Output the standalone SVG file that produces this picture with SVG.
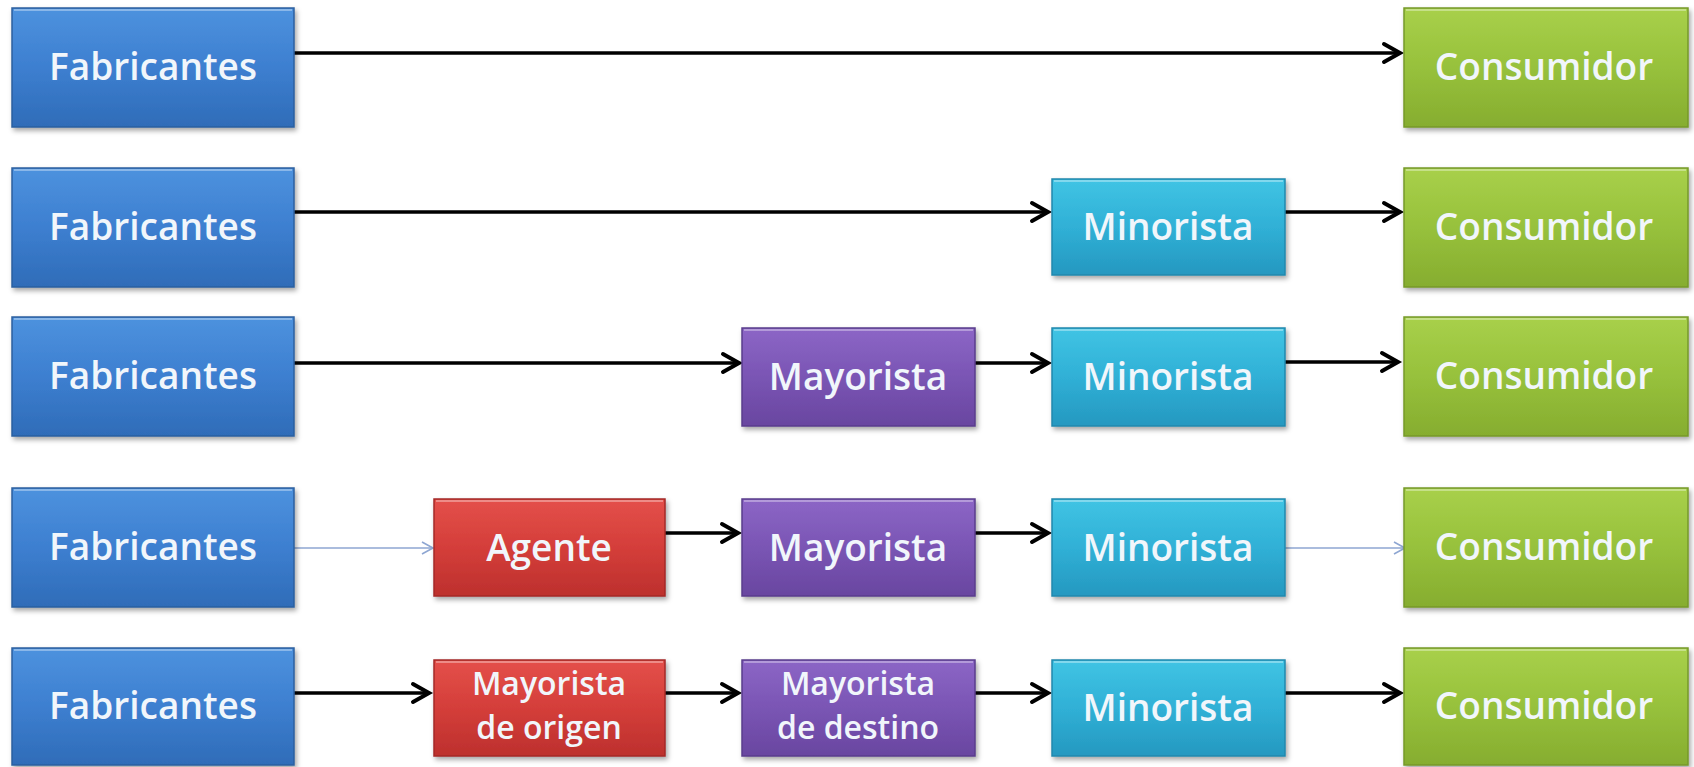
<svg xmlns="http://www.w3.org/2000/svg" width="1694" height="767" viewBox="0 0 1694 767">
<defs>
<linearGradient id="gBlue" x1="0" y1="0" x2="0" y2="1"><stop offset="0" stop-color="#4d92de"/><stop offset="0.5" stop-color="#3d7fd0"/><stop offset="1" stop-color="#2f6cb8"/></linearGradient>
<linearGradient id="gGreen" x1="0" y1="0" x2="0" y2="1"><stop offset="0" stop-color="#a8d04a"/><stop offset="0.5" stop-color="#97c13c"/><stop offset="1" stop-color="#86ad2f"/></linearGradient>
<linearGradient id="gCyan" x1="0" y1="0" x2="0" y2="1"><stop offset="0" stop-color="#40c4e4"/><stop offset="0.5" stop-color="#30b0d6"/><stop offset="1" stop-color="#2598c0"/></linearGradient>
<linearGradient id="gPurple" x1="0" y1="0" x2="0" y2="1"><stop offset="0" stop-color="#8c66c6"/><stop offset="0.5" stop-color="#7a55b4"/><stop offset="1" stop-color="#6946a0"/></linearGradient>
<linearGradient id="gRed" x1="0" y1="0" x2="0" y2="1"><stop offset="0" stop-color="#e4504a"/><stop offset="0.5" stop-color="#d43e3a"/><stop offset="1" stop-color="#bd302d"/></linearGradient>
<filter id="sh" x="-10%" y="-10%" width="125%" height="130%"><feDropShadow dx="2" dy="3" stdDeviation="2.5" flood-color="#000" flood-opacity="0.35"/></filter>
<marker id="ah" markerUnits="userSpaceOnUse" markerWidth="24" markerHeight="24" refX="19" refY="12" orient="auto"><path d="M3,3 L19,12 L3,21" fill="none" stroke="#000" stroke-width="4" stroke-linejoin="miter" stroke-linecap="round"/></marker>
<marker id="ahThin" markerUnits="userSpaceOnUse" markerWidth="16" markerHeight="16" refX="13" refY="8" orient="auto"><path d="M2,2 L13,8 L2,14" fill="none" stroke="#8ea6d2" stroke-width="1.6"/></marker>
</defs>
<style>
.box{filter:url(#sh);}
.blue{fill:url(#gBlue);stroke:#2b5f9f;stroke-width:1.5;}
.green{fill:url(#gGreen);stroke:#76992a;stroke-width:1.5;}
.cyan{fill:url(#gCyan);stroke:#1f88ad;stroke-width:1.5;}
.purple{fill:url(#gPurple);stroke:#5a3c8c;stroke-width:1.5;}
.red{fill:url(#gRed);stroke:#a42a27;stroke-width:1.5;}
.hl{fill:none;stroke:#ffffff;stroke-opacity:0.35;stroke-width:2;}
text{font-family:"Open Sans","Liberation Sans",Arial,sans-serif;font-weight:600;font-size:37px;text-anchor:middle;fill:#f1f6fb;}
text.two{font-size:32px;}
.c{stroke:#000;stroke-width:3.5;fill:none;marker-end:url(#ah);}
.t{stroke:#8ea6d2;stroke-width:1.6;fill:none;marker-end:url(#ahThin);}
</style>
<rect width="1694" height="767" fill="#ffffff"/>

<g id="connectors">
<line class="c" x1="294" y1="53" x2="1400" y2="53"/>
<line class="c" x1="294" y1="212" x2="1048" y2="212"/>
<line class="c" x1="1285" y1="212" x2="1400" y2="212"/>
<line class="c" x1="294" y1="363" x2="739" y2="363"/>
<line class="c" x1="975" y1="363" x2="1048" y2="363"/>
<line class="c" x1="1285" y1="362" x2="1398" y2="362"/>
<line class="t" x1="294" y1="548" x2="433" y2="548"/>
<line class="c" x1="665" y1="533" x2="738" y2="533"/>
<line class="c" x1="975" y1="533" x2="1048" y2="533"/>
<line class="t" x1="1285" y1="548" x2="1405" y2="548"/>
<line class="c" x1="294" y1="693" x2="429" y2="693"/>
<line class="c" x1="665" y1="693" x2="738" y2="693"/>
<line class="c" x1="975" y1="693" x2="1048" y2="693"/>
<line class="c" x1="1285" y1="693" x2="1400" y2="693"/>
</g>

<!-- Row 1 -->
<g id="fab1"><rect class="box blue" x="12" y="8" width="282" height="119"/><line class="hl" x1="14" y1="10" x2="292" y2="10"/><text x="153" y="80">Fabricantes</text></g>
<g id="cons1"><rect class="box green" x="1404" y="8" width="284" height="119"/><line class="hl" x1="1406" y1="10" x2="1686" y2="10"/><text x="1544" y="80">Consumidor</text></g>

<!-- Row 2 -->
<g id="fab2"><rect class="box blue" x="12" y="168" width="282" height="119"/><line class="hl" x1="14" y1="170" x2="292" y2="170"/><text x="153" y="240">Fabricantes</text></g>
<g id="min2"><rect class="box cyan" x="1052" y="179" width="233" height="96"/><line class="hl" x1="1054" y1="181" x2="1283" y2="181"/><text x="1168" y="240">Minorista</text></g>
<g id="cons2"><rect class="box green" x="1404" y="168" width="284" height="119"/><line class="hl" x1="1406" y1="170" x2="1686" y2="170"/><text x="1544" y="240">Consumidor</text></g>

<!-- Row 3 -->
<g id="fab3"><rect class="box blue" x="12" y="317" width="282" height="119"/><line class="hl" x1="14" y1="319" x2="292" y2="319"/><text x="153" y="389">Fabricantes</text></g>
<g id="may3"><rect class="box purple" x="742" y="328" width="233" height="98"/><line class="hl" x1="744" y1="330" x2="973" y2="330"/><text x="858" y="390">Mayorista</text></g>
<g id="min3"><rect class="box cyan" x="1052" y="328" width="233" height="98"/><line class="hl" x1="1054" y1="330" x2="1283" y2="330"/><text x="1168" y="390">Minorista</text></g>
<g id="cons3"><rect class="box green" x="1404" y="317" width="284" height="119"/><line class="hl" x1="1406" y1="319" x2="1686" y2="319"/><text x="1544" y="389">Consumidor</text></g>

<!-- Row 4 -->
<g id="fab4"><rect class="box blue" x="12" y="488" width="282" height="119"/><line class="hl" x1="14" y1="490" x2="292" y2="490"/><text x="153" y="560">Fabricantes</text></g>
<g id="age4"><rect class="box red" x="434" y="499" width="231" height="97"/><line class="hl" x1="436" y1="501" x2="663" y2="501"/><text x="549" y="561">Agente</text></g>
<g id="may4"><rect class="box purple" x="742" y="499" width="233" height="97"/><line class="hl" x1="744" y1="501" x2="973" y2="501"/><text x="858" y="561">Mayorista</text></g>
<g id="min4"><rect class="box cyan" x="1052" y="499" width="233" height="97"/><line class="hl" x1="1054" y1="501" x2="1283" y2="501"/><text x="1168" y="561">Minorista</text></g>
<g id="cons4"><rect class="box green" x="1404" y="488" width="284" height="119"/><line class="hl" x1="1406" y1="490" x2="1686" y2="490"/><text x="1544" y="560">Consumidor</text></g>

<!-- Row 5 -->
<g id="fab5"><rect class="box blue" x="12" y="648" width="282" height="117"/><line class="hl" x1="14" y1="650" x2="292" y2="650"/><text x="153" y="719">Fabricantes</text></g>
<g id="mdo5"><rect class="box red" x="434" y="660" width="231" height="96"/><line class="hl" x1="436" y1="662" x2="663" y2="662"/><text class="two" x="549" y="695">Mayorista</text><text class="two" x="549" y="739">de origen</text></g>
<g id="mdd5"><rect class="box purple" x="742" y="660" width="233" height="96"/><line class="hl" x1="744" y1="662" x2="973" y2="662"/><text class="two" x="858" y="695">Mayorista</text><text class="two" x="858" y="739">de destino</text></g>
<g id="min5"><rect class="box cyan" x="1052" y="660" width="233" height="96"/><line class="hl" x1="1054" y1="662" x2="1283" y2="662"/><text x="1168" y="721">Minorista</text></g>
<g id="cons5"><rect class="box green" x="1404" y="648" width="284" height="117"/><line class="hl" x1="1406" y1="650" x2="1686" y2="650"/><text x="1544" y="719">Consumidor</text></g>
</svg>
